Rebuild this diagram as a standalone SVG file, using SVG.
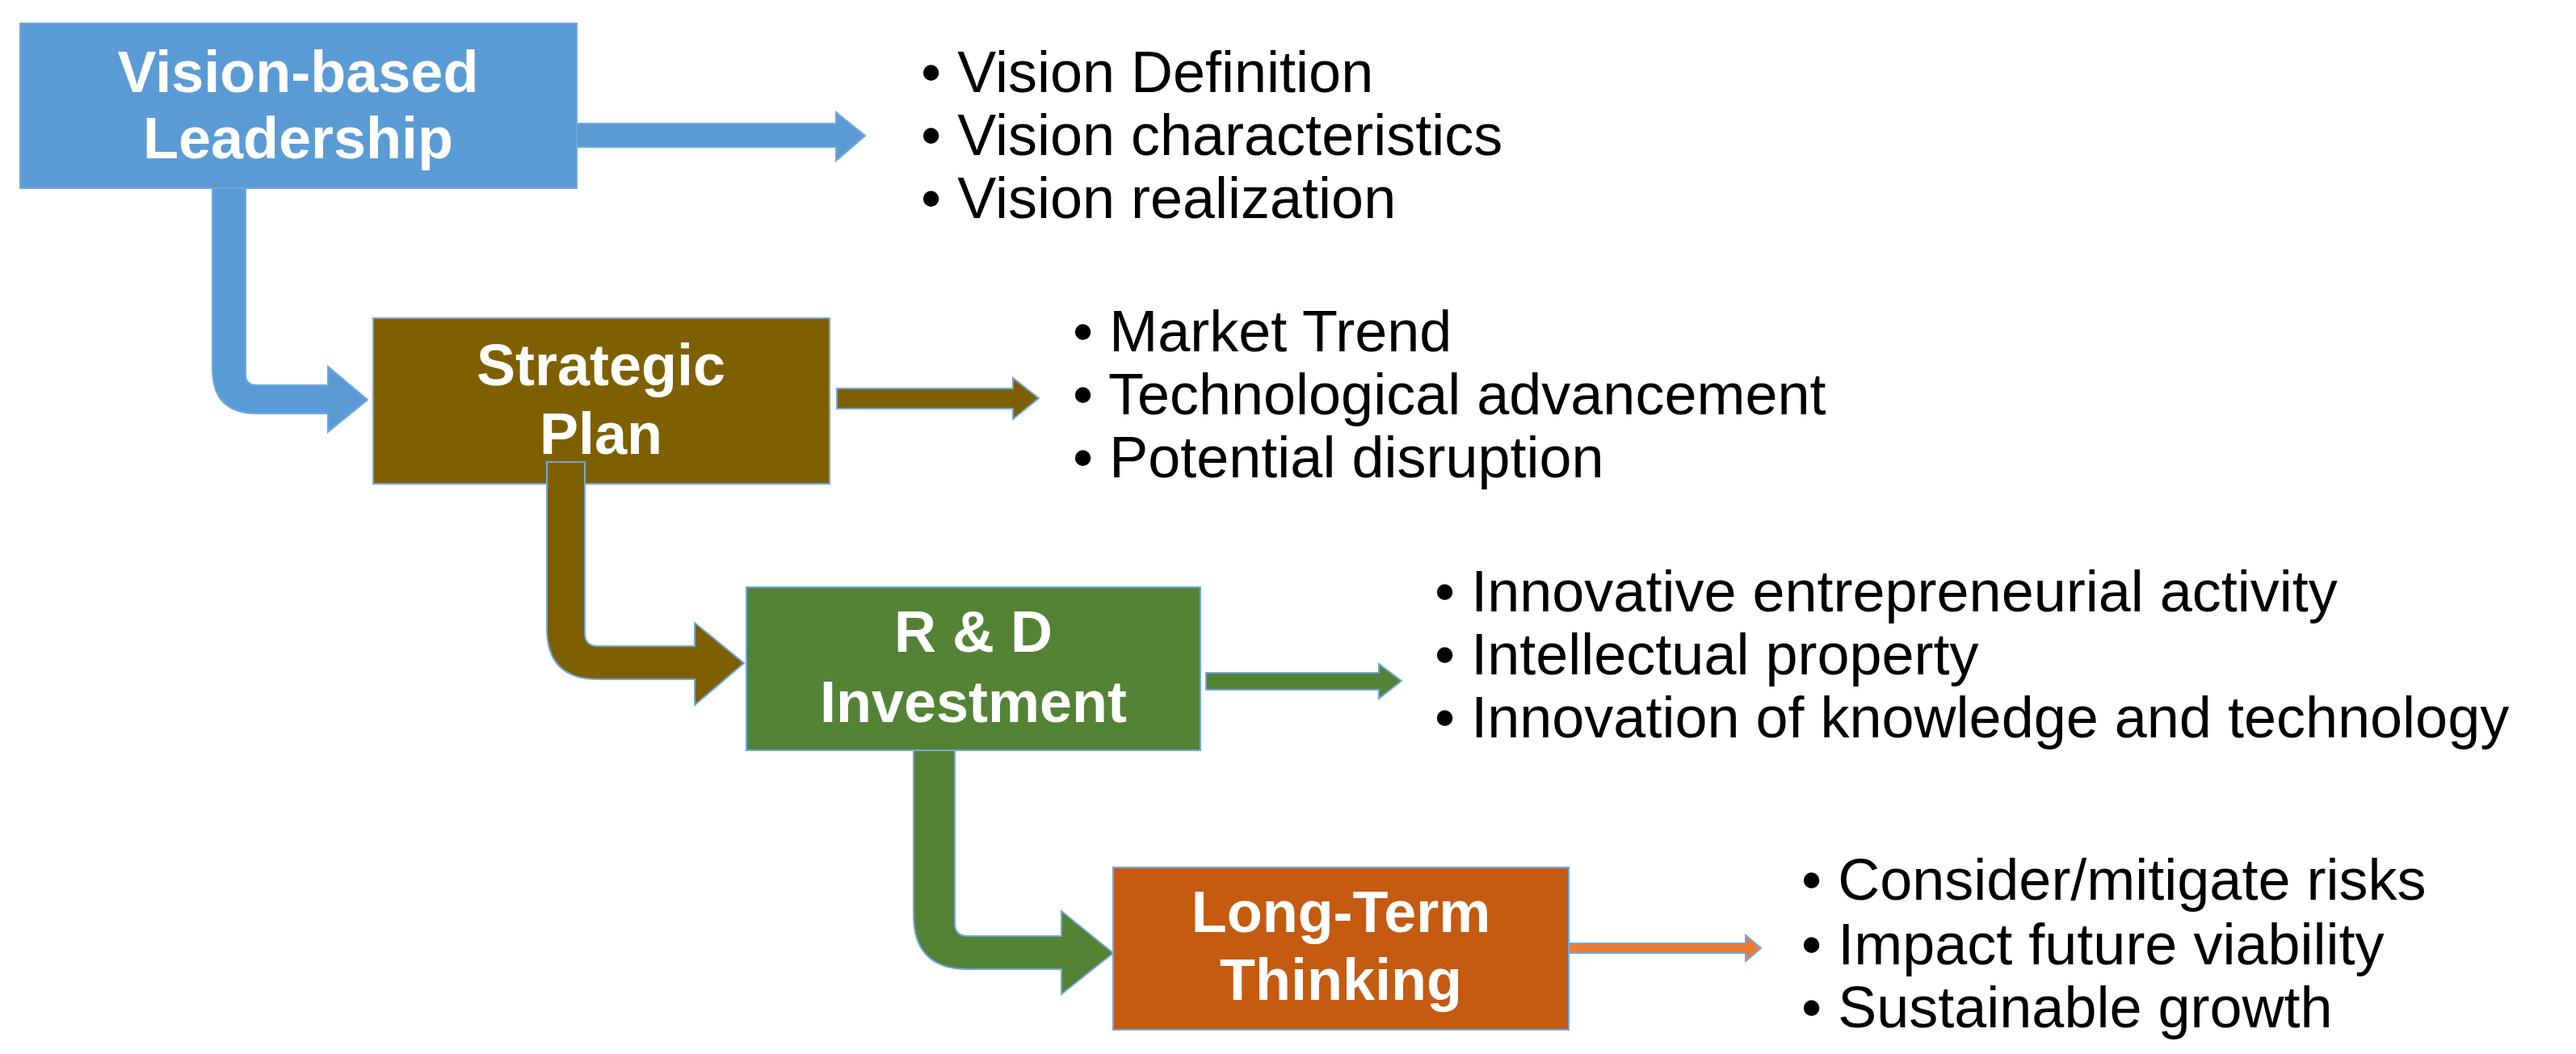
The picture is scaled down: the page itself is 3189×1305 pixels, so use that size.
<svg xmlns="http://www.w3.org/2000/svg" width="3189" height="1305" viewBox="0 0 3189 1305">
<style>
.t{font-family:"Liberation Sans",Arial,sans-serif;font-weight:bold;font-size:72px;fill:#fff;text-anchor:middle}
.b{font-family:"Liberation Sans",Arial,sans-serif;font-size:72px;fill:#000}
.box{stroke:#6FA8DC;stroke-width:2}
.c{stroke:#6FA8DC;stroke-width:2}
</style>
<rect width="3189" height="1305" fill="#fff"/>
<g id="n1"><rect class="box" x="25" y="29" width="689" height="204" fill="#5B9BD5"/><text class="t" x="369" y="114">Vision-based</text><text class="t" x="369" y="196">Leadership</text></g>
<g id="n2"><rect class="box" x="462" y="394" width="565" height="205" fill="#7F6000"/><text class="t" x="744" y="477">Strategic</text><text class="t" x="744" y="562">Plan</text></g>
<g id="n3"><rect class="box" x="924" y="727" width="562" height="202" fill="#548235"/><text class="t" x="1205" y="807">R &amp; D</text><text class="t" x="1205" y="894">Investment</text></g>
<g id="n4"><rect class="box" x="1378" y="1074" width="564" height="201" fill="#C55A11"/><text class="t" x="1660" y="1154">Long-Term</text><text class="t" x="1660" y="1238">Thinking</text></g>
<g id="l1" class="b"><text x="1140" y="114">• Vision Definition</text><text x="1140" y="192">• Vision characteristics</text><text x="1140" y="270">• Vision realization</text></g>
<g id="l2" class="b"><text x="1328" y="435">• Market Trend</text><text x="1328" y="513">• Technological advancement</text><text x="1328" y="591">• Potential disruption</text></g>
<g id="l3" class="b"><text x="1776" y="757">• Innovative entrepreneurial activity</text><text x="1776" y="835">• Intellectual property</text><text x="1776" y="913">• Innovation of knowledge and technology</text></g>
<g id="l4" class="b"><text x="2230" y="1114">• Consider/mitigate risks</text><text x="2230" y="1194">• Impact future viability</text><text x="2230" y="1272">• Sustainable growth</text></g>
<g id="connectors">
<path class="c" fill="#5B9BD5" d="M714,153 L1035,153 L1035,139 L1071,168 L1035,199 L1035,182 L714,182 Z"/>
<path class="c" fill="#5B9BD5" d="M263,233 L304,233 L304,463 Q304,477 318,477 L406,477 L406,454 L455,495 L406,535 L406,512 L318,512 Q263,512 263,457 Z"/>
<path class="c" fill="#7F6000" d="M1036,481 L1254,481 L1254,468 L1286,493 L1254,519 L1254,506 L1036,506 Z"/>
<path class="c" fill="#7F6000" d="M677,572 L724,572 L724,784 Q724,800 740,800 L860,800 L860,771 L921,821 L860,873 L860,841 L740,841 Q677,841 677,778 Z"/>
<path class="c" fill="#548235" d="M1493,833 L1707,833 L1707,822 L1735,843 L1707,865 L1707,854 L1493,854 Z"/>
<path class="c" fill="#548235" d="M1131,929 L1182,929 L1182,1143 Q1182,1159 1198,1159 L1314,1159 L1314,1128 L1378,1180 L1314,1231 L1314,1200 L1198,1200 Q1131,1200 1131,1133 Z"/>
<path class="c" fill="#ED7D31" d="M1942,1168 L2161,1168 L2161,1158 L2180,1174 L2161,1190 L2161,1180 L1942,1180 Z"/>
</g>
</svg>
